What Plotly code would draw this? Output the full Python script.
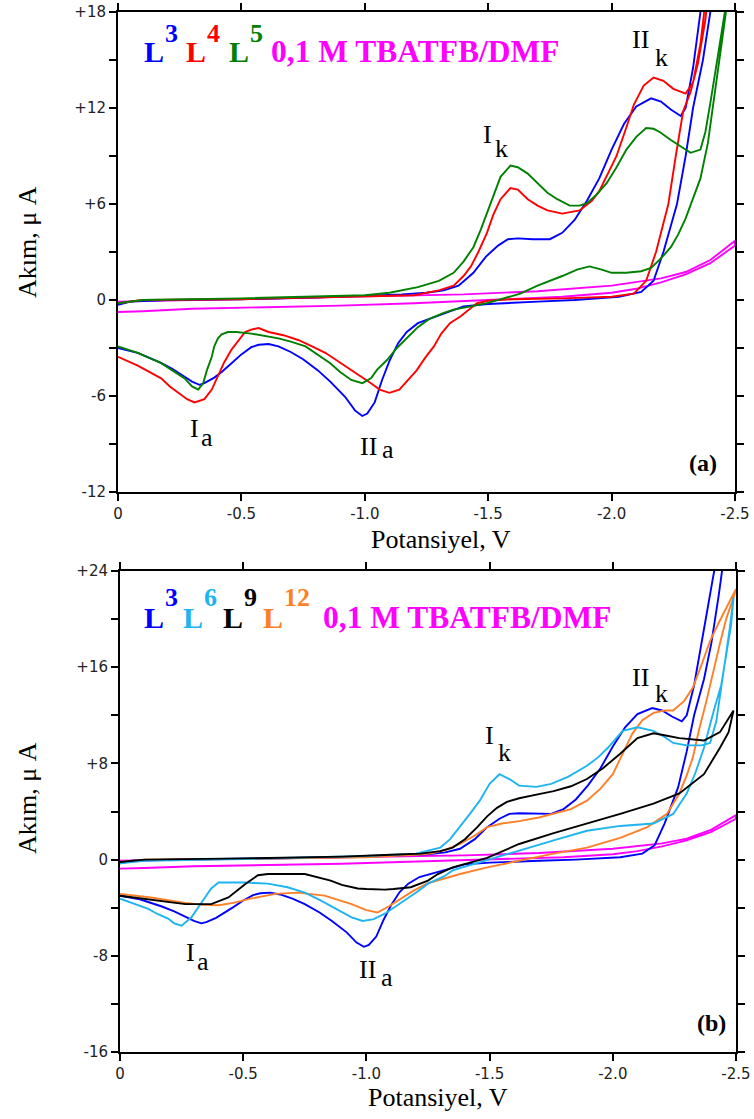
import plotly.graph_objects as go

W, H = 754, 1119

# ---------------- Panel (a) data: potential (V) and current (uA) ----------------
L3_V = [0, -0.05, -0.2, -0.5, -0.8, -1.0, -1.15, -1.25, -1.32, -1.38,
        -1.44, -1.49, -1.54, -1.58, -1.62, -1.68, -1.75, -1.80, -1.85, -1.90,
        -1.95, -2.0, -2.05, -2.10, -2.16, -2.20, -2.24, -2.28, -2.30, -2.33,
        -2.36, -2.39, -2.42,
        -2.45, -2.43, -2.40, -2.37, -2.33, -2.30, -2.265, -2.21, -2.17, -2.12,
        -2.03, -1.85, -1.70, -1.50, -1.40, -1.33, -1.28, -1.215, -1.17, -1.135,
        -1.10, -1.07, -1.04, -1.01, -0.99, -0.96, -0.92, -0.86, -0.81, -0.75,
        -0.70, -0.65, -0.61, -0.57, -0.54, -0.50, -0.46, -0.42, -0.39, -0.35,
        -0.33, -0.30, -0.27, -0.22, -0.17, -0.08, 0]
L3_I = [-0.3, -0.1, 0.0, 0.05, 0.15, 0.25, 0.35, 0.45, 0.6, 0.9,
        1.7, 2.7, 3.4, 3.8, 3.85, 3.8, 3.8, 4.2, 5.0, 6.2,
        7.6, 9.4, 11.0, 12.1, 12.6, 12.4, 11.9, 11.5, 12.0, 14.5,
        18.0, 21.5, 25.0,
        25.0, 22.0, 18.0, 15.0, 12.0, 9.0, 6.0, 3.0, 1.2, 0.5,
        0.2, 0.0, -0.1, -0.25, -0.4, -0.8, -1.1, -1.45, -2.0, -2.7,
        -3.8, -5.0, -6.4, -7.1, -7.25, -6.9, -6.05, -5.1, -4.4, -3.7,
        -3.25, -2.9, -2.75, -2.8, -2.95, -3.4, -3.95, -4.5, -4.85, -5.2,
        -5.3, -5.1, -4.8, -4.3, -3.9, -3.3, -3.0]

L4_V = [0, -0.1, -0.5, -1.0, -1.2, -1.30, -1.36, -1.40, -1.43, -1.46,
        -1.495, -1.52, -1.55, -1.59, -1.62, -1.66, -1.70, -1.74, -1.80, -1.87,
        -1.92, -1.95, -1.99, -2.02, -2.06, -2.09, -2.13, -2.17, -2.21, -2.25,
        -2.30, -2.33, -2.36, -2.39, -2.42,
        -2.43, -2.40, -2.38, -2.35, -2.32, -2.29, -2.26, -2.23, -2.18, -2.14,
        -2.09, -2.0, -1.8, -1.6, -1.50, -1.455, -1.43, -1.39, -1.345, -1.31,
        -1.28, -1.245, -1.21, -1.175, -1.14, -1.10, -1.06, -1.025, -0.985, -0.945,
        -0.89, -0.84, -0.78, -0.73, -0.67, -0.61, -0.57, -0.54, -0.515, -0.49,
        -0.46, -0.43, -0.405, -0.38, -0.35, -0.31, -0.28, -0.255, -0.21, -0.175,
        -0.12, -0.08, 0]
L4_I = [-0.2, 0.0, 0.05, 0.2, 0.3, 0.6, 0.9, 1.5, 2.1, 3.0,
        4.2, 5.3, 6.3, 7.0, 6.9, 6.3, 5.9, 5.6, 5.4, 5.6,
        6.2, 6.8, 8.0, 9.0, 10.8, 12.2, 13.4, 13.9, 13.7, 13.2,
        12.9, 13.6, 16.0, 19.5, 24.0,
        24.0, 20.5, 17.5, 14.8, 13.0, 11.8, 9.0, 6.0, 3.0, 1.2,
        0.4, 0.2, 0.1, 0.05, -0.05, -0.2, -0.5, -1.0, -1.45, -2.1,
        -2.9, -3.6, -4.4, -5.0, -5.6, -5.8, -5.6, -5.2, -4.8, -4.4,
        -3.85, -3.3, -2.85, -2.5, -2.2, -2.0, -1.75, -1.85, -2.0, -2.5,
        -3.1, -3.9, -4.8, -5.6, -6.2, -6.4, -6.2, -5.9, -5.4, -4.9,
        -4.45, -4.1, -3.55]

L5_V = [0, -0.1, -0.5, -0.8, -1.0, -1.1, -1.215, -1.30, -1.36, -1.40,
        -1.44, -1.47, -1.495, -1.52, -1.55, -1.59, -1.62, -1.66, -1.70, -1.74,
        -1.78, -1.83, -1.87, -1.90, -1.94, -1.98, -2.02, -2.06, -2.10, -2.14,
        -2.17, -2.195, -2.24, -2.28, -2.32, -2.36, -2.38, -2.40, -2.42, -2.44,
        -2.46, -2.48,
        -2.49, -2.45, -2.42, -2.39, -2.36, -2.33, -2.30, -2.27, -2.24, -2.20,
        -2.16, -2.12, -2.06, -2.0, -1.96, -1.91, -1.86, -1.80, -1.76, -1.70,
        -1.63, -1.56, -1.495, -1.43, -1.36, -1.32, -1.26, -1.215, -1.175, -1.13,
        -1.09, -1.05, -1.025, -0.99, -0.945, -0.90, -0.86, -0.81, -0.76, -0.70,
        -0.65, -0.54, -0.48, -0.445, -0.42, -0.405, -0.39, -0.38, -0.36, -0.345,
        -0.325, -0.30, -0.27, -0.22, -0.175, -0.08, 0]
L5_I = [-0.2, 0.0, 0.1, 0.2, 0.3, 0.45, 0.8, 1.2, 1.7, 2.4,
        3.3, 4.4, 5.4, 6.5, 7.7, 8.4, 8.3, 7.9, 7.3, 6.7,
        6.3, 5.9, 5.9, 6.05, 6.6, 7.3, 8.3, 9.4, 10.2, 10.75,
        10.7, 10.5, 10.0, 9.6, 9.2, 9.4, 10.5, 12.3, 14.2, 16.25,
        18.1, 20.0,
        21.0, 16.5, 13.0, 9.8, 7.6, 6.3, 5.1, 4.1, 3.3, 2.6,
        2.0, 1.8, 1.7, 1.7, 1.9, 2.1, 1.9, 1.5, 1.25, 0.9,
        0.4, 0.1, -0.2, -0.4, -0.6, -0.8, -1.2, -1.7, -2.3, -3.0,
        -3.75, -4.35, -4.9, -5.2, -5.0, -4.5, -3.95, -3.4, -2.9, -2.6,
        -2.4, -2.1, -2.0, -2.0, -2.15, -2.4, -2.9, -3.55, -4.4, -5.2,
        -5.6, -5.4, -4.9, -4.4, -3.95, -3.3, -2.9]

# blank electrolyte (0,1 M TBATFB/DMF)
BLANK_V = [0, -0.3, -0.6, -1.0, -1.4, -1.7, -2.0, -2.2, -2.3, -2.4, -2.5,
           -2.5, -2.4, -2.3, -2.2, -2.1, -2.0, -1.8, -1.5, -1.2, -0.9, -0.6, -0.3, -0.1, 0]
BLANK_I = [-0.1, 0.0, 0.1, 0.2, 0.35, 0.55, 0.9, 1.35, 1.75, 2.5, 3.7,
           3.4, 2.3, 1.6, 1.1, 0.7, 0.45, 0.2, 0.0, -0.2, -0.35, -0.45, -0.55, -0.7, -0.75]

# ---------------- Panel (b) data ----------------
L6_V = [0, -0.1, -0.5, -1.0, -1.2, -1.30, -1.34, -1.38, -1.42, -1.46,
        -1.50, -1.54, -1.58, -1.62, -1.69, -1.75, -1.82, -1.895, -1.94, -1.98,
        -2.04, -2.10, -2.165, -2.21, -2.245, -2.30, -2.36, -2.395, -2.42, -2.44,
        -2.46, -2.475, -2.49,
        -2.48, -2.46, -2.44, -2.41, -2.37, -2.335, -2.30, -2.245, -2.165, -2.03,
        -1.895, -1.76, -1.62, -1.49, -1.40, -1.35, -1.315, -1.25, -1.205, -1.16,
        -1.11, -1.075, -1.03, -0.985, -0.94, -0.87, -0.81, -0.75, -0.68, -0.60,
        -0.50, -0.40, -0.37, -0.345, -0.31, -0.29, -0.25, -0.22, -0.195, -0.15,
        -0.115, -0.05, 0]
L6_I = [-0.3, -0.1, 0.05, 0.3, 0.5, 1.0, 1.7, 2.7, 3.8, 4.9,
        6.3, 7.1, 6.7, 6.15, 6.05, 6.3, 6.9, 7.8, 8.5, 9.3,
        10.7, 11.0, 10.7, 10.2, 9.7, 9.5, 9.5, 9.7, 11.5, 14.3,
        17.0, 19.3, 21.8,
        19.5, 17.0, 14.5, 12.4, 9.3, 7.2, 5.5, 3.8, 3.0, 2.8,
        2.4, 1.6, 0.75, -0.1, -0.6, -0.9, -1.4, -2.0, -2.7, -3.3,
        -4.0, -4.5, -4.95, -5.1, -4.8, -4.0, -3.35, -2.75, -2.3, -2.0,
        -1.9, -1.9, -2.4, -3.15, -4.2, -4.8, -5.5, -5.3, -4.9, -4.5,
        -4.1, -3.6, -3.25]

L9_V = [0, -0.1, -0.5, -0.9, -1.1, -1.22, -1.30, -1.35, -1.40, -1.45,
        -1.49, -1.53, -1.57, -1.62, -1.70, -1.76, -1.83, -1.895, -1.96, -2.03,
        -2.10, -2.165, -2.22, -2.27, -2.37, -2.435, -2.49,
        -2.47, -2.435, -2.37, -2.27, -2.165, -2.03, -1.895, -1.76, -1.62, -1.49,
        -1.35, -1.29, -1.25, -1.18, -1.11, -1.075, -1.0, -0.965, -0.90, -0.855,
        -0.75, -0.60, -0.56, -0.51, -0.44, -0.37, -0.265, -0.155, 0]
L9_I = [-0.2, 0.0, 0.1, 0.25, 0.4, 0.5, 0.7, 1.0, 1.7, 2.7,
        3.6, 4.3, 4.8, 5.1, 5.45, 5.7, 6.1, 6.7, 7.6, 8.8,
        10.1, 10.5, 10.3, 10.1, 9.9, 10.6, 12.4,
        10.6, 9.3, 7.1, 5.5, 4.65, 3.8, 3.0, 2.2, 1.3, 0.15,
        -0.65, -1.2, -1.75, -2.3, -2.45, -2.5, -2.45, -2.4, -2.1, -1.75,
        -1.2, -1.2, -1.3, -2.0, -3.15, -3.7, -3.7, -3.4, -3.0]

L12_V = [0, -0.1, -0.5, -1.0, -1.2, -1.26, -1.32, -1.38, -1.44, -1.49,
         -1.55, -1.62, -1.70, -1.76, -1.83, -1.895, -1.95, -2.0, -2.04, -2.08,
         -2.12, -2.165, -2.21, -2.245, -2.29, -2.325, -2.36, -2.395, -2.43, -2.46,
         -2.50,
         -2.49, -2.46, -2.435, -2.41, -2.38, -2.35, -2.325, -2.30, -2.27, -2.22,
         -2.14, -2.03, -1.895, -1.76, -1.62, -1.49, -1.38, -1.245, -1.19, -1.14,
         -1.09, -1.045, -1.0, -0.94, -0.88, -0.83, -0.72, -0.63, -0.53, -0.46,
         -0.40, -0.33, -0.265, -0.2, -0.125, 0]
L12_I = [-0.2, 0.0, 0.05, 0.2, 0.4, 0.5, 0.8, 1.3, 2.0, 2.7,
         3.0, 3.2, 3.5, 3.8, 4.2, 4.9, 5.9, 7.1, 8.8, 10.5,
         11.6, 12.2, 12.4, 12.4, 13.2, 14.3, 16.2, 18.2, 19.7, 20.9,
         22.5,
         21.8, 20.0, 18.0, 15.8, 13.2, 10.8, 8.5, 7.0, 5.5, 3.8,
         2.7, 1.8, 1.0, 0.5, -0.1, -0.65, -1.2, -2.0, -2.6, -3.25,
         -3.9, -4.4, -4.2, -3.7, -3.3, -3.0, -2.75, -2.85, -3.25, -3.6,
         -3.8, -3.75, -3.6, -3.4, -3.15, -2.85]

X_TICKS = [0, -0.5, -1.0, -1.5, -2.0, -2.5]
X_TICKTEXT = ['0', '-0.5', '-1.0', '-1.5', '-2.0', '-2.5']
YA_TICKS = [-12, -9, -6, -3, 0, 3, 6, 9, 12, 15, 18]
YA_TICKTEXT = ['-12', '', '-6', '', '0', '', '+6', '', '+12', '', '+18']
YB_TICKS = [-16, -12, -8, -4, 0, 4, 8, 12, 16, 20, 24]
YB_TICKTEXT = ['-16', '', '-8', '', '0', '', '+8', '', '+16', '', '+24']

BLUE, RED, GREEN, MAGENTA = '#0000FF', '#FF0000', '#008000', '#FF00FF'
CYAN, BLACK, ORANGE = '#1EB4F0', '#000000', '#FF7F27'

fig = go.Figure()


def add_curve(v, i, color, xa, ya):
    n = min(len(v), len(i))
    fig.add_trace(go.Scatter(x=v[:n], y=i[:n], mode='lines', xaxis=xa, yaxis=ya,
                             line=dict(color=color, width=1.9), showlegend=False,
                             hoverinfo='skip'))


# panel (a)
add_curve(BLANK_V, BLANK_I, MAGENTA, 'x', 'y')
add_curve(L3_V, L3_I, BLUE, 'x', 'y')
add_curve(L4_V, L4_I, RED, 'x', 'y')
add_curve(L5_V, L5_I, GREEN, 'x', 'y')
# panel (b)
add_curve(BLANK_V, BLANK_I, MAGENTA, 'x2', 'y2')
add_curve(L3_V, L3_I, BLUE, 'x2', 'y2')
add_curve(L12_V, L12_I, ORANGE, 'x2', 'y2')
add_curve(L6_V, L6_I, CYAN, 'x2', 'y2')
add_curve(L9_V, L9_I, BLACK, 'x2', 'y2')

axis_common = dict(showline=True, linecolor='black', linewidth=2, mirror='allticks',
                   ticks='outside', ticklen=7, tickwidth=2, tickcolor='black',
                   showgrid=False, zeroline=False, automargin=False,
                   tickfont=dict(family='DejaVu Sans', size=15, color='#222222'))

fig.update_layout(
    width=W, height=H, margin=dict(l=0, r=0, t=0, b=0, pad=0, autoexpand=False),
    paper_bgcolor='white', plot_bgcolor='white', showlegend=False,
    xaxis=dict(domain=[118 / W, 735 / W], range=[0, -2.5], tickvals=X_TICKS,
               ticktext=X_TICKTEXT, anchor='y', **axis_common),
    yaxis=dict(domain=[1 - 492 / H, 1 - 12 / H], range=[-12, 18], tickvals=YA_TICKS,
               ticktext=YA_TICKTEXT, anchor='x', **axis_common),
    xaxis2=dict(domain=[120 / W, 736 / W], range=[0, -2.5], tickvals=X_TICKS,
                ticktext=X_TICKTEXT, anchor='y2', **axis_common),
    yaxis2=dict(domain=[1 - 1052 / H, 1 - 571 / H], range=[-16, 24], tickvals=YB_TICKS,
                ticktext=YB_TICKTEXT, anchor='x2', **axis_common),
)

anns = []


def ann(text, px, py, size, color='black', weight='normal', family='Liberation Serif',
        xanchor='center', angle=0):
    anns.append(dict(text=text, x=px / W, y=1 - py / H, xref='paper', yref='paper',
                     xanchor=xanchor, yanchor='middle', showarrow=False, textangle=angle,
                     borderpad=0,
                     font=dict(family=family, size=size, color=color, weight=weight)))


# panel (a) header
ann('L', 143, 51, 30, BLUE, 'bold', xanchor='left')
ann('3', 164, 33, 26, BLUE, 'bold', xanchor='left')
ann('L', 185, 51, 30, RED, 'bold', xanchor='left')
ann('4', 206, 34, 26, RED, 'bold', xanchor='left')
ann('L', 228, 51, 30, GREEN, 'bold', xanchor='left')
ann('5', 249, 33, 26, GREEN, 'bold', xanchor='left')
ann('0,1 M TBATFB/DMF', 270, 51, 31.5, MAGENTA, 'bold', xanchor='left')
# panel (b) header
ann('L', 143, 617, 30, BLUE, 'bold', xanchor='left')
ann('3', 164, 598, 26, BLUE, 'bold', xanchor='left')
ann('L', 182, 617, 30, CYAN, 'bold', xanchor='left')
ann('6', 203, 598, 26, CYAN, 'bold', xanchor='left')
ann('L', 222, 617, 30, BLACK, 'bold', xanchor='left')
ann('9', 243, 598, 26, BLACK, 'bold', xanchor='left')
ann('L', 262, 617, 30, ORANGE, 'bold', xanchor='left')
ann('12', 283, 598, 26, ORANGE, 'bold', xanchor='left')
ann('0,1 M TBATFB/DMF', 322, 617, 31.5, MAGENTA, 'bold', xanchor='left')

# peak labels (a)
ann('I', 487, 134, 26)
ann('k', 502, 149, 26)
ann('II', 640, 40, 26)
ann('k', 661, 58, 26)
ann('I', 194, 428, 26)
ann('a', 207, 437, 26)
ann('II', 368, 446, 26)
ann('a', 388, 449, 26)
# peak labels (b)
ann('I', 489, 735, 26)
ann('k', 504, 752, 26)
ann('II', 640, 677, 26)
ann('k', 661, 693, 26)
ann('I', 190, 952, 26)
ann('a', 203, 961, 26)
ann('II', 367, 970, 26)
ann('a', 387, 977, 26)

ann('(a)', 703, 463, 24, weight='bold')
ann('(b)', 711, 1023, 24, weight='bold')

# axis titles
ann('Potansiyel, V', 441, 539, 26)
ann('Potansiyel, V', 438, 1097, 26)
ann('Akım, μ A', 27, 242, 26, angle=-90)
ann('Akım, μ A', 27, 798, 26, angle=-90)

fig.update_layout(annotations=anns)
fig.write_html('out.html')
